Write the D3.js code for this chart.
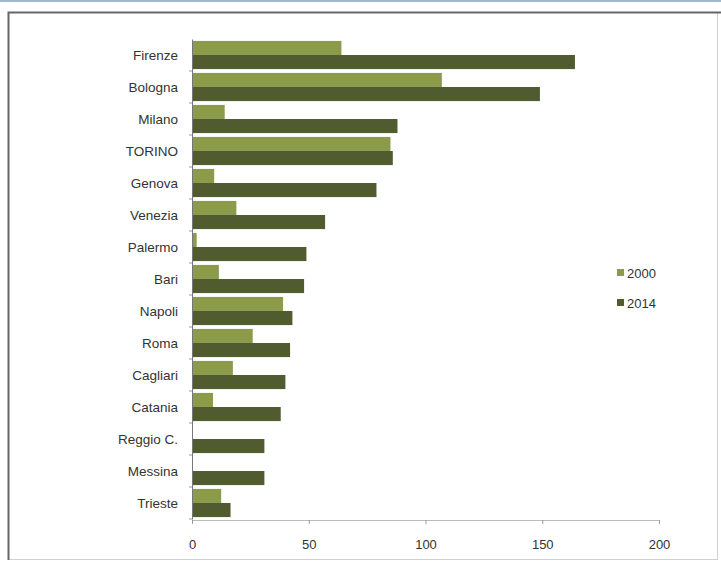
<!DOCTYPE html>
<html>
<head>
<meta charset="utf-8">
<script src="https://cdn.jsdelivr.net/npm/d3@7"></script>
<style>
  body { margin: 0; background: #fff; }
  svg { display: block; font-family: "Liberation Sans", "DejaVu Sans", sans-serif; }
</style>
</head>
<body>
<script>
const width = 721;
const height = 563;

// cities, top to bottom
const cities = ["Firenze", "Bologna", "Milano", "TORINO", "Genova", "Venezia", "Palermo",
  "Bari", "Napoli", "Roma", "Cagliari", "Catania", "Reggio C.", "Messina", "Trieste"];
const years = ["2000", "2014"];
const values2000 = [64, 107, 14, 85, 9.5, 19, 2, 11.5, 39, 26, 17.5, 9, 0, 0, 12.5];
const values2014 = [164, 149, 88, 86, 79, 57, 49, 48, 43, 42, 40, 38, 31, 31, 16.5];
const xTicks = [0, 50, 100, 150, 200];
const colors = ["#8b9a4b", "#505c30"];

const svg = d3.select("body").append("svg")
    .attr("width", width)
    .attr("height", height);

// window frame
svg.append("line").attr("x1", 0).attr("x2", width).attr("y1", 1).attr("y2", 1)
    .attr("stroke", "#9fb8cc").attr("stroke-width", 2);
svg.append("rect").attr("x", 8.5).attr("y", 12.5).attr("width", 709).attr("height", 547)
    .attr("fill", "#fff").attr("stroke", "#d0d0d0");
svg.append("path").attr("d", "M8.5,560V12.5H721")
    .attr("fill", "none").attr("stroke", "#666").attr("stroke-width", 2);

const x = d3.scaleLinear().domain([0, 200]).range([192, 659]);
const y = d3.scaleBand().domain(cities).range([39, 519]).paddingInner(0.12).paddingOuter(0.06);
const ySub = d3.scaleBand().domain(years).range([0, y.bandwidth()]);

const rows = cities.map((c, i) => ({city: c, vals: [values2000[i], values2014[i]]}));

const groups = svg.append("g").selectAll("g")
  .data(rows)
  .join("g")
    .attr("transform", d => `translate(0,${y(d.city)})`);

groups.selectAll("rect")
  .data(d => d.vals.map((v, j) => ({year: years[j], v: v, j: j})))
  .join("rect")
    .attr("x", x(0))
    .attr("y", d => ySub(d.year))
    .attr("width", d => x(d.v) - x(0))
    .attr("height", ySub.bandwidth())
    .attr("fill", d => colors[d.j]);

// x axis
const xAxis = svg.append("g")
    .attr("transform", "translate(0,520)")
    .call(d3.axisBottom(x).tickValues(xTicks).tickSize(4).tickPadding(16));
xAxis.select(".domain").attr("stroke", "#bbb");
xAxis.selectAll(".tick line").attr("stroke", "#999");
xAxis.selectAll("text").attr("font-size", 13).attr("fill", "#333");

// y axis
const yAxis = svg.append("g")
    .attr("transform", "translate(192,0)")
    .call(d3.axisLeft(y).tickSize(0).tickPadding(14));
yAxis.select(".domain").attr("stroke", "#777");
yAxis.selectAll("text").attr("font-size", 13.5).attr("fill", "#333").attr("dy", "0.4em");
yAxis.selectAll(".tick").append("line")
    .attr("x1", -3).attr("x2", 0)
    .attr("y1", y.step() / 2).attr("y2", y.step() / 2)
    .attr("stroke", "#999");

// legend
const legend = svg.append("g").selectAll("g")
  .data(years)
  .join("g")
    .attr("transform", (d, i) => `translate(617,${273 + i * 30})`);
legend.append("rect")
    .attr("x", 0).attr("y", -4).attr("width", 7).attr("height", 7)
    .attr("fill", (d, i) => colors[i]);
legend.append("text")
    .attr("x", 10).attr("y", 0).attr("dy", "0.35em")
    .attr("font-size", 13).attr("fill", "#333")
    .text(d => d);
</script>
</body>
</html>
